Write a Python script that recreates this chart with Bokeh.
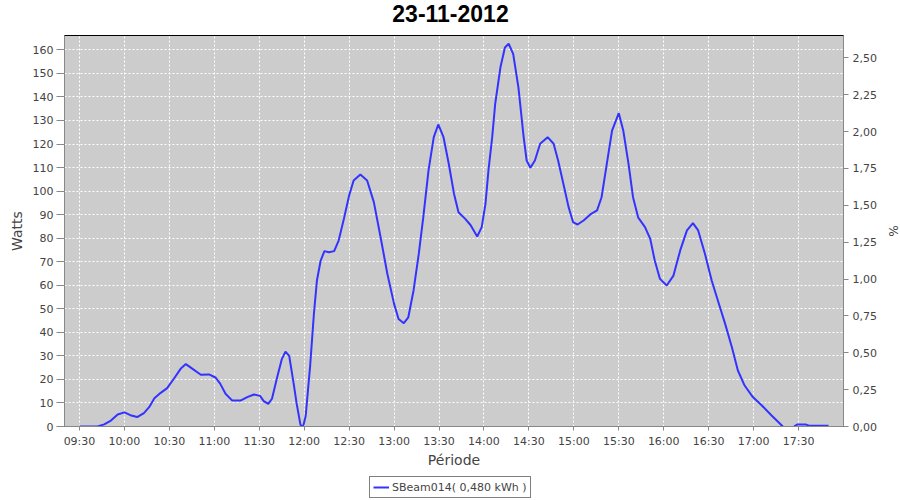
import numpy as np
from bokeh.plotting import figure
from bokeh.layouts import column
from bokeh.models import (Range1d, LinearAxis, FixedTicker, Legend, LegendItem,
                          ColumnDataSource, Label)
from bokeh.embed import file_html
from bokeh.resources import INLINE

# ---------------- data ----------------
title_text = "23-11-2012"
series_name = "SBeam014( 0,480 kWh )"
x_axis_label = "Période"
left_axis_label = "Watts"
right_axis_label = "%"

start_time = "09:30"
# minutes elapsed since start_time
elapsed_min = [0, 12, 16.5, 21, 25.5, 30, 34, 38.5, 43, 46.5, 50, 54, 58.5, 63, 67.5,
               71, 75.5, 81, 86.5, 91, 94, 97.5, 102, 107.5, 112, 116.5, 120.5, 123,
               126, 128.5, 132, 135, 137.5, 140, 143, 145, 147.5, 148.5, 149.5, 151,
               154, 156.5, 158.5, 161, 163.5, 166.5, 170, 173, 176.5, 180, 183, 187.5,
               192, 196.5, 201, 205.5, 210, 213, 216.5, 219.5, 223, 226.5, 229.5, 233,
               236.5, 239.5, 243, 246.5, 250, 253, 257.5, 261, 265.5, 268.5, 271, 273,
               275.5, 277.5, 281, 284, 286.5, 289.5, 293, 296.5, 298.5, 301, 304,
               307.5, 312.5, 316.5, 319.5, 323, 326.5, 329.5, 332.5, 336.5, 341,
               345.5, 348.5, 352, 355.5, 360, 363, 366.5, 369.5, 373, 377.5, 381, 384,
               387.5, 392, 396.5, 401, 405.5, 409.5, 413, 417.5, 422, 426.5, 431,
               435.5, 439.5, 444, 449.5, 455.5, 462, 469.5, 473, 477, 479, 485, 487,
               500]
watts = [0, 0, 0.9, 2.5, 5.1, 6.0, 4.8, 4.0, 5.7, 8.2, 12.0, 14.2, 16.3, 20.3, 24.5,
         26.5, 24.5, 22.0, 22.1, 20.7, 18.1, 13.9, 11.0, 11.0, 12.5, 13.6, 13.0, 10.8,
         9.6, 11.8, 21.0, 28.5, 31.8, 30.0, 18.1, 9.6, 0.8, 0, 0.5, 4.5,
         26.0, 48.0, 62.0, 70.5, 74.5, 74.0, 74.5, 79.0, 88.2, 98.1, 104.5, 107.0,
         104.5, 95.3, 80.4, 64.9, 52.1, 45.7, 43.9, 46.4, 57.8, 73.4, 88.9, 108.8,
         122.9, 128.3, 122.9, 111.6, 98.9, 91.0, 88.2, 85.6, 80.7, 84.7, 94.6, 108.8,
         122.9, 137.1, 152.6, 161.0, 162.6, 158.3, 144.1, 122.9, 113.0, 109.9, 113.0,
         120.1, 122.9, 120.1, 113.0, 103.1, 93.2, 86.8, 85.8, 87.5, 90.1,
         91.8, 97.4, 111.6, 125.7, 133.1, 125.7, 111.6, 97.4, 88.7, 84.7, 79.7, 70.5,
         62.7, 59.9, 64.1, 74.8, 83.3, 86.4, 83.3, 73.4, 62.0, 52.8, 43.6,
         33.7, 23.8, 17.4, 12.5, 8.9, 4.7, 0, float("nan"), 0, 0.8, 0.8, 0.3,
         0.3]

x_tick_labels = ["09:30", "10:00", "10:30", "11:00", "11:30", "12:00", "12:30",
                 "13:00", "13:30", "14:00", "14:30", "15:00", "15:30", "16:00",
                 "16:30", "17:00", "17:30"]
x_start_label, x_end_label = "09:20", "18:00"
watts_ticks = [0, 10, 20, 30, 40, 50, 60, 70, 80, 90, 100, 110, 120, 130, 140, 150, 160]
watts_max = 166.1
pct_ticks = [0, 0.25, 0.5, 0.75, 1.0, 1.25, 1.5, 1.75, 2.0, 2.25, 2.5]
pct_tick_labels = ["0,00", "0,25", "0,50", "0,75", "1,00", "1,25", "1,50", "1,75",
                   "2,00", "2,25", "2,50"]
pct_max = 2.651


def to_min(hhmm):
    h, m = hhmm.split(":")
    return int(h) * 60 + int(m)


t0 = to_min(start_time)
x_vals = np.array([t0 + e for e in elapsed_min], dtype=float)
y_vals = np.array(watts, dtype=float)
x_ticks = [to_min(s) for s in x_tick_labels]

FONT = "DejaVu Sans"
AX_GREY = "#888888"
TXT_GREY = "#444444"
LINE_COLOR = "#3333FF"
PAGE_W = 899
FRAME_LEFT = 64

src = ColumnDataSource(data=dict(x=x_vals, y=y_vals))

# ---------------- title strip ----------------
p_title = figure(width=PAGE_W, height=34, output_backend="svg", toolbar_location=None,
                 title=None, x_axis_location=None, y_axis_location=None,
                 min_border=0, outline_line_color=None,
                 background_fill_color="white", border_fill_color="white")
p_title.grid.visible = False
p_title.add_layout(Label(x=450 - FRAME_LEFT, y=21, x_units="screen", y_units="screen",
                         text=title_text, text_align="center",
                         text_baseline="alphabetic", text_font="Liberation Sans",
                         text_font_size="23px", text_font_style="bold",
                         text_color="black"))

# ---------------- main chart ----------------
p = figure(frame_width=779, frame_height=391, output_backend="svg",
           toolbar_location=None, title=None,
           x_range=Range1d(to_min(x_start_label), to_min(x_end_label)),
           y_range=Range1d(0, watts_max),
           min_border_left=FRAME_LEFT, min_border_right=56, min_border_top=1,
           min_border_bottom=47,
           background_fill_color="#CCCCCC", border_fill_color="white",
           outline_line_color="black", outline_line_width=1)

p.line("x", "y", source=src, line_color=LINE_COLOR, line_width=2)

xa = p.xaxis[0]
xa.ticker = FixedTicker(ticks=x_ticks)
xa.major_label_overrides = {t: s for t, s in zip(x_ticks, x_tick_labels)}
xa.axis_label = x_axis_label

ya = p.yaxis[0]
ya.ticker = FixedTicker(ticks=watts_ticks)
ya.axis_label = left_axis_label

p.extra_y_ranges = {"pct": Range1d(0, pct_max)}
ra = LinearAxis(y_range_name="pct", axis_label=right_axis_label,
                ticker=FixedTicker(ticks=pct_ticks))
ra.major_label_overrides = {t: s for t, s in zip(pct_ticks, pct_tick_labels)}
p.add_layout(ra, "right")

for ax in [xa, ya, ra]:
    ax.axis_line_color = AX_GREY
    ax.major_tick_line_color = AX_GREY
    ax.minor_tick_line_color = None
    ax.major_tick_in = 0
    ax.major_label_text_font = FONT
    ax.major_label_text_font_size = "11px"
    ax.major_label_text_color = TXT_GREY
    ax.axis_label_text_font = FONT
    ax.axis_label_text_font_style = "normal"
    ax.axis_label_text_color = TXT_GREY

xa.major_tick_out = 4
xa.major_label_standoff = 4
xa.axis_label_text_font_size = "14px"
xa.axis_label_standoff = 1

ya.major_tick_out = 8
ya.major_label_standoff = 3
ya.axis_label_text_font_size = "14px"
ya.axis_label_standoff = 5

ra.major_tick_out = 5
ra.major_label_standoff = 4
ra.axis_label_text_font_size = "12px"
ra.axis_label_standoff = 6

for g in [p.xgrid[0], p.ygrid[0]]:
    g.grid_line_color = "white"
    g.grid_line_dash = "2 2"
    g.grid_line_width = 1

# ---------------- legend strip ----------------
# the swatch renderer shares the series data; its y range lies below the data,
# so only its legend sample is visible
p_leg = figure(width=PAGE_W, height=26, output_backend="svg", toolbar_location=None,
               title=None, x_axis_location=None, y_axis_location=None,
               x_range=Range1d(to_min(x_start_label), to_min(x_end_label)),
               y_range=Range1d(-20, -10),
               min_border=0, outline_line_color=None,
               background_fill_color="white", border_fill_color="white")
p_leg.grid.visible = False
swatch = p_leg.line("x", "y", source=src, line_color=LINE_COLOR, line_width=2)
legend = Legend(items=[LegendItem(label=series_name, renderers=[swatch])],
                location=(369 - FRAME_LEFT, 1), orientation="horizontal",
                border_line_color="black", border_line_width=1,
                background_fill_color="white", background_fill_alpha=1,
                label_text_font=FONT, label_text_font_size="11px",
                label_text_color=TXT_GREY, glyph_width=16, glyph_height=14,
                label_height=14, label_standoff=3, padding=3, margin=0, spacing=0)
p_leg.add_layout(legend, "center")

layout = column(p_title, p, p_leg, spacing=0)
open("out.html", "w").write(file_html(layout, INLINE))
